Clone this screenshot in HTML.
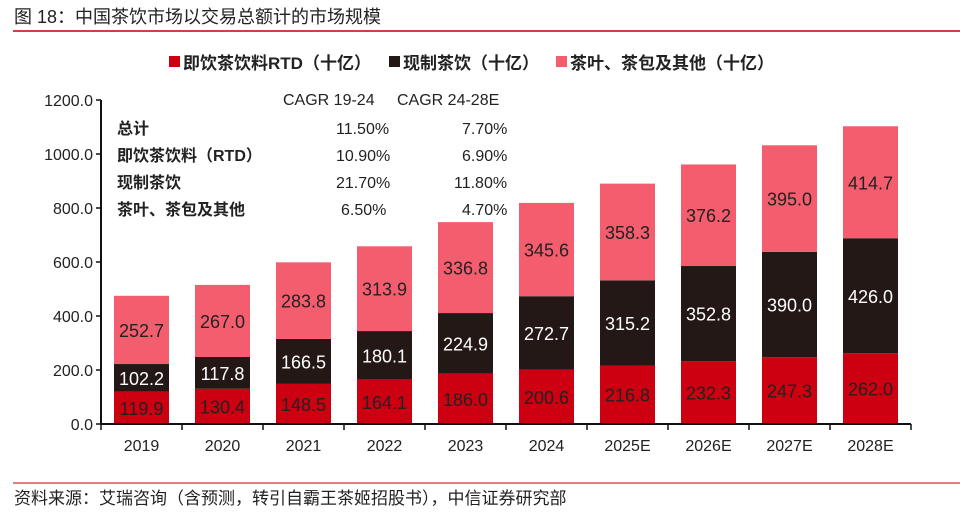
<!DOCTYPE html>
<html><head><meta charset="utf-8"><style>
body{margin:0;background:#fff;width:960px;height:516px;overflow:hidden;font-family:"Liberation Sans","Noto Sans CJK SC",sans-serif;}
svg text{font-family:"Liberation Sans","Noto Sans CJK SC",sans-serif;}
</style></head><body>
<svg id="c" width="960" height="516">
<text x="14" y="23" font-size="18" fill="#222">图 18：中国茶饮市场以交易总额计的市场规模</text>
<line x1="13" y1="31" x2="960" y2="31" stroke="#c00000" stroke-width="1.5"/>
<g>
<rect x="169" y="56" width="11" height="11" fill="#cc0010"/>
<text x="183" y="69" font-size="17" font-weight="bold" fill="#222">即饮茶饮料RTD（十亿）</text>
<rect x="389" y="56" width="11" height="11" fill="#231815"/>
<text x="403" y="69" font-size="17" font-weight="bold" fill="#222">现制茶饮（十亿）</text>
<rect x="556" y="56" width="11" height="11" fill="#f45d6e"/>
<text x="570" y="69" font-size="17" font-weight="bold" fill="#222">茶叶、茶包及其他（十亿）</text>
</g>
<g font-size="16" fill="#222">
<text x="283" y="105">CAGR 19-24</text><text x="397" y="105">CAGR 24-28E</text>
<text x="117" y="134" font-weight="bold">总计</text><text x="336" y="134">11.50%</text><text x="462" y="134">7.70%</text>
<text x="117" y="161" font-weight="bold">即饮茶饮料（RTD）</text><text x="336" y="161">10.90%</text><text x="462" y="161">6.90%</text>
<text x="117" y="188" font-weight="bold">现制茶饮</text><text x="336" y="188">21.70%</text><text x="454" y="188">11.80%</text>
<text x="117" y="215" font-weight="bold">茶叶、茶包及其他</text><text x="341" y="215">6.50%</text><text x="462" y="215">4.70%</text>
</g>
<g id="plot"></g>
<line x1="13" y1="483" x2="960" y2="483" stroke="#c00000" stroke-width="1"/>
<text x="14" y="504" font-size="17" fill="#222">资料来源：艾瑞咨询（含预测，转引自霸王茶姬招股书），中信证券研究部</text>
</svg>
<script>
const categories=["2019","2020","2021","2022","2023","2024","2025E","2026E","2027E","2028E"];
const rtd=[119.9,130.4,148.5,164.1,186.0,200.6,216.8,232.3,247.3,262.0];
const fresh=[102.2,117.8,166.5,180.1,224.9,272.7,315.2,352.8,390.0,426.0];
const other=[252.7,267.0,283.8,313.9,336.8,345.6,358.3,376.2,395.0,414.7];
const yTicks=[0,200,400,600,800,1000,1200];
const NS="http://www.w3.org/2000/svg";
const g=document.getElementById("plot");
const x0=101,step=81,bw=55,yBase=424,yTop=100,yMax=1200;
const y=v=>yBase-(v/yMax)*(yBase-yTop);
const xc=i=>x0+step*(i+0.5);
function mk(t,a,p){const e=document.createElementNS(NS,t);for(const k in a)e.setAttribute(k,a[k]);(p||g).appendChild(e);return e;}
const axis=mk("line",{x1:x0,y1:yTop,x2:x0,y2:yBase,stroke:"#111","stroke-width":2});


yTicks.forEach(t=>{
 const tk=mk("line",{x1:x0-5,y1:y(t),x2:x0,y2:y(t),stroke:"#111","stroke-width":1.5});
 
 
 const l=mk("text",{x:x0-8,y:y(t)+6,"text-anchor":"end","font-size":16,fill:"#222"});
 l.textContent=t.toFixed(1);
 
 
});
const series=[[rtd,"#cc0010","#222","rtd"],[fresh,"#231815","#fff","fresh"],[other,"#f45d6e","#222","other"]];
categories.forEach((c,i)=>{
 let acc=0;
 series.forEach(([arr,col,tc,nm])=>{
  const v=arr[i];
  const r=mk("rect",{x:xc(i)-bw/2,y:y(acc+v),width:bw,height:y(acc)-y(acc+v),fill:col});
  
  
  const t=mk("text",{x:xc(i),y:(y(acc)+y(acc+v))/2+7,"text-anchor":"middle","font-size":18,fill:tc});
  t.textContent=v.toFixed(1);
  
  
  acc+=v;
 });
 const xl=mk("text",{x:xc(i),y:yBase+27,"text-anchor":"middle","font-size":16,fill:"#222"});
 xl.textContent=c;
 
 
});
const xa=mk("line",{x1:x0,y1:yBase,x2:x0+step*categories.length,y2:yBase,stroke:"#111","stroke-width":2});


for(let i=0;i<=categories.length;i++){
 const tk=mk("line",{x1:x0+step*i,y1:yBase,x2:x0+step*i,y2:yBase+6,stroke:"#111","stroke-width":1.5});
 
 
}
</script>
</body></html>
